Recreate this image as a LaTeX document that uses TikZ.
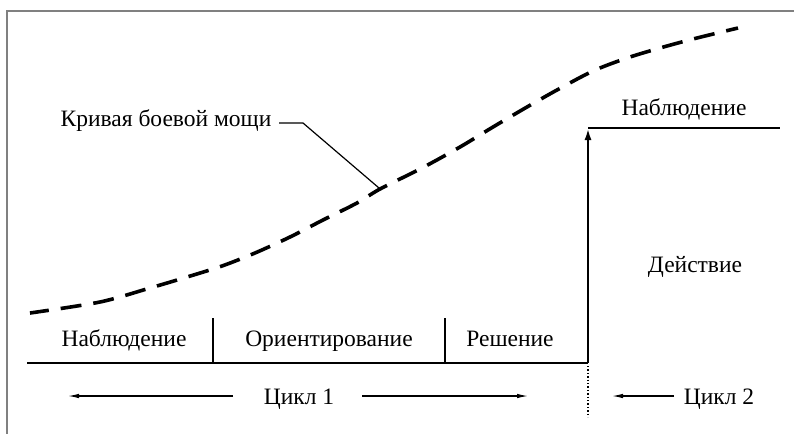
\documentclass[tikz,border=0pt]{standalone}
\usepackage{fontspec}
\setmainfont{Liberation Serif}
\usetikzlibrary{arrows.meta}
\begin{document}
\begin{tikzpicture}[x=1pt,y=-1pt,
  lbl/.style={font=\fontsize{23.5}{28}\selectfont, anchor=base, inner sep=0pt},
  thin arrow/.style={line width=1.1pt, -{Latex[length=11pt,width=4.5pt]}},
  thick line/.style={line width=2.4pt},
  curve/.style={line width=3.6pt, dash pattern=on 21pt off 12pt, dash phase=2pt},
  frame/.style={draw=gray, line width=1.5pt}]
\useasboundingbox (0,0) rectangle (794,434);
% frame
\draw[frame] (794,11) -- (7,11) -- (7,434);
% curve
\draw[curve] plot[smooth, tension=0.5] coordinates {(30,313) (100,302) (150,288) (187,277) (222,266) (255,253) (290,237) (323,220) (357,203) (380,189) (422,168) (460,147) (493,127) (527,107) (557,90) (593,71) (627,58) (660,48) (693,39) (738,28)};
\coordinate (cp) at (379,188);
% label for curve
\node[lbl] (kb) at (166,126) {Кривая боевой мощи};
\coordinate (l1) at (279,123);
\coordinate (l2) at (303,123);
\draw[line width=1.2pt] (l1) -- (l2) -- (cp);
% base line and ticks
\coordinate (b0) at (27,363);
\coordinate (b1) at (588,363);
\coordinate (t1a) at (213,318);
\coordinate (t1b) at (213,363);
\coordinate (t2a) at (445,318);
\coordinate (t2b) at (445,363);
\draw[thick line] (b0) -- (b1);
\draw[line width=1.8pt] (t1a) -- (t1b);
\draw[line width=1.8pt] (t2a) -- (t2b);
\node[lbl] (n1) at (124,346) {Наблюдение};
\node[lbl] (o1) at (329,346) {Ориентирование};
\node[lbl] (r1) at (510,346) {Решение};
% action
\coordinate (up) at (588,128);
\coordinate (hr) at (780,128);
\draw[thick line, -{Latex[length=12pt,width=7pt]}] (b1) -- (up);
\draw[thick line] (up) -- (hr);
\node[lbl] (n2) at (684,115) {Наблюдение};
\node[lbl] (d2) at (695,272) {Действие};
% dotted separator
\coordinate (d0) at (588,366);
\coordinate (d1) at (588,417);
\draw[line width=1.4pt, dotted] (d0) -- (d1);
% cycles
\node[lbl] (c1) at (299,404) {Цикл 1};
\node[lbl] (c2) at (719,404) {Цикл 2};
\coordinate (a1) at (68,396);
\coordinate (a2) at (528,396);
\coordinate (a3) at (612,396);
\coordinate (s1) at (233,396);
\coordinate (s2) at (362,396);
\coordinate (s3) at (674,396);
\draw[thin arrow] (s1) -- (a1);
\draw[thin arrow] (s2) -- (a2);
\draw[thin arrow] (s3) -- (a3);
\end{tikzpicture}
\end{document}
